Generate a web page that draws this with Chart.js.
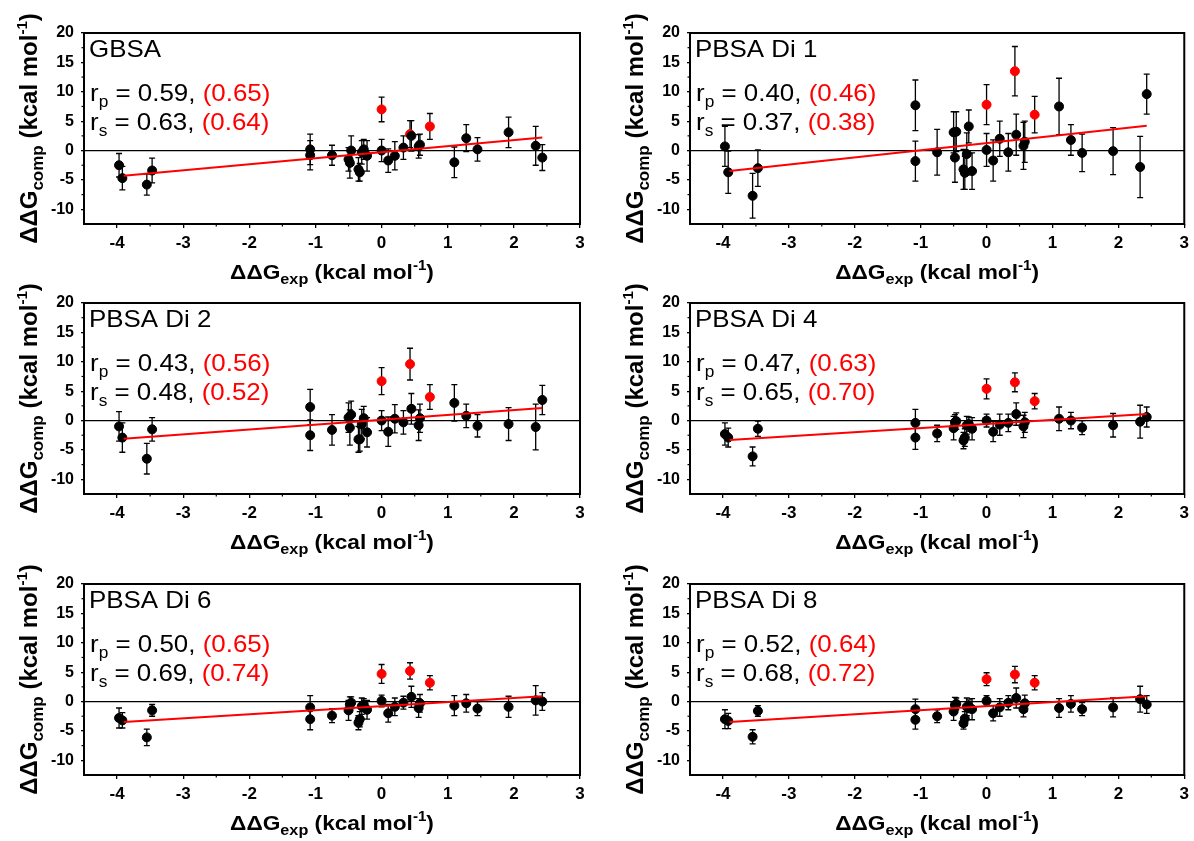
<!DOCTYPE html>
<html>
<head>
<meta charset="utf-8">
<script src="https://cdn.jsdelivr.net/npm/chart.js@4.4.0/dist/chart.umd.min.js"></script>
<style>
  body { margin: 0; background: #fff; }
  #wrap { position: relative; width: 1194px; height: 841px; overflow: hidden; }
  canvas { position: absolute; }
</style>
</head>
<body>
<div id="wrap"></div>
<script>
// experimental ddG (shared by all panels)
const xBlack = [-3.97, -3.92, -3.55, -3.47, -1.08, -1.08, -0.75, -0.50, -0.48, -0.46, -0.35, -0.33, -0.30, -0.27,
                -0.22, 0.00, 0.10, 0.20, 0.33, 0.45, 0.56, 0.58, 1.10, 1.28, 1.45, 1.92, 2.33, 2.43];
const xRed = [0.00, 0.43, 0.73];
const fitX = [-3.9, 2.43];
const xTicks = [-4, -3, -2, -1, 0, 1, 2, 3];
const yTicks = [-10, -5, 0, 5, 10, 15, 20];

// GBSA
const gbsaY   = [-2.5, -4.7, -5.8, -3.4, 0.2, -0.8, -0.8, -1.5, -2.1, 0.0, -3.2, -3.7, -0.3, 0.2, -0.9, 0.0, -1.7, -0.9, 0.5, 2.5, 0.7, 1.0, -2.0, 2.1, 0.2, 3.1, 0.8, -1.2];
const gbsaErr = [2.0, 2.0, 1.8, 2.1, 2.6, 2.5, 1.7, 2.0, 2.6, 2.5, 2.0, 1.5, 2.0, 1.7, 2.6, 1.9, 2.0, 2.4, 2.0, 2.6, 2.0, 1.8, 2.6, 2.3, 2.0, 2.6, 3.3, 2.2];
const gbsaRedY = [7.0, 2.8, 4.1];
const gbsaRedErr = [2.1, 2.3, 2.2];
const gbsaFitY = [-4.3, 2.2];

// PBSA Di 1
const di1Y   = [0.7, -3.7, -7.7, -3.0, 7.7, -1.8, -0.3, 3.1, -1.2, 3.2, -3.2, -3.8, -0.6, 4.1, -3.5, 0.1, -1.7, 2.0, -0.3, 2.7, 0.8, 1.5, 7.5, 1.8, -0.4, -0.1, -2.8, 9.6];
const di1Err = [3.4, 3.6, 3.8, 3.1, 4.3, 3.4, 3.9, 3.5, 4.2, 3.4, 3.4, 2.8, 3.6, 2.8, 3.1, 2.8, 3.5, 3.0, 3.2, 3.5, 4.0, 3.5, 4.8, 2.6, 3.2, 4.0, 5.2, 3.4];
const di1RedY = [7.8, 13.5, 6.1];
const di1RedErr = [3.4, 4.2, 3.1];
const di1FitY = [-3.5, 4.2];

// PBSA Di 2
const di2Y   = [-1.0, -2.9, -6.5, -1.5, 2.3, -2.5, -1.6, 0.5, -1.2, 1.0, -3.2, -3.2, -0.6, 0.4, -2.0, 0.0, -1.9, 0.3, -0.3, 2.0, -0.8, 0.4, 3.0, 0.8, -0.9, -0.6, -1.1, 3.5];
const di2Err = [2.5, 2.5, 2.6, 2.0, 3.0, 2.6, 2.6, 2.5, 3.0, 2.3, 2.2, 2.0, 2.5, 2.0, 2.5, 1.7, 2.5, 2.4, 2.0, 2.6, 2.6, 2.4, 3.1, 2.0, 1.9, 2.8, 3.9, 2.5];
const di2RedY = [6.7, 9.6, 4.0];
const di2RedErr = [2.3, 2.7, 2.1];
const di2FitY = [-3.1, 2.15];

// PBSA Di 4
const di4Y   = [-2.3, -2.9, -6.1, -1.4, -0.4, -2.9, -2.2, -1.3, -0.3, -0.1, -3.4, -2.9, -0.8, -0.6, -1.4, 0.0, -1.9, -0.7, -0.4, 1.1, -1.0, -0.3, 0.3, 0.0, -1.2, -0.8, -0.2, 0.6];
const di4Err = [1.9, 1.6, 1.6, 1.3, 2.3, 2.0, 1.4, 2.0, 1.3, 1.4, 1.4, 1.5, 1.5, 1.2, 1.9, 1.1, 1.7, 1.8, 1.5, 1.9, 1.9, 1.7, 2.0, 1.4, 1.2, 2.0, 2.8, 1.7];
const di4RedY = [5.4, 6.5, 3.3];
const di4RedErr = [1.7, 1.6, 1.3];
const di4FitY = [-3.3, 1.1];

// PBSA Di 6
const di6Y   = [-2.8, -3.2, -6.1, -1.5, -1.0, -3.0, -2.4, -1.5, -0.5, -0.2, -3.6, -3.0, -0.8, -0.5, -1.4, 0.1, -2.0, -0.9, -0.2, 0.8, -1.1, -0.3, -0.7, -0.3, -1.2, -0.9, 0.2, 0.0];
const di6Err = [1.7, 1.3, 1.4, 1.0, 2.0, 1.8, 1.2, 1.7, 1.3, 1.0, 1.2, 1.3, 1.4, 1.0, 1.6, 1.0, 1.5, 1.5, 1.1, 1.8, 1.6, 1.5, 1.7, 1.5, 1.2, 1.8, 2.5, 1.5];
const di6RedY = [4.7, 5.2, 3.2];
const di6RedErr = [1.6, 1.4, 1.2];
const di6FitY = [-3.5, 0.9];

// PBSA Di 8
const di8Y   = [-3.0, -3.3, -6.0, -1.6, -1.3, -3.1, -2.5, -1.7, -0.6, -0.4, -3.7, -2.9, -0.9, -0.8, -1.3, 0.1, -2.0, -1.0, -0.2, 0.6, -1.3, -0.3, -1.1, -0.4, -1.3, -1.0, 0.4, -0.5];
const di8Err = [1.6, 1.3, 1.2, 0.9, 1.7, 1.6, 1.1, 1.5, 1.3, 1.0, 1.0, 1.2, 1.5, 1.1, 1.8, 0.9, 1.3, 1.5, 1.2, 1.7, 1.3, 1.4, 1.6, 1.4, 1.1, 1.6, 2.2, 1.5];
const di8RedY = [3.8, 4.6, 3.2];
const di8RedErr = [1.1, 1.4, 1.2];
const di8FitY = [-3.5, 0.9];

const panelNames = ['GBSA', 'PBSA Di 1', 'PBSA Di 2', 'PBSA Di 4', 'PBSA Di 6', 'PBSA Di 8'];
const rpVals = ['0.59', '0.40', '0.43', '0.47', '0.50', '0.52'];
const rpRed  = ['0.65', '0.46', '0.56', '0.63', '0.65', '0.64'];
const rsVals = ['0.63', '0.37', '0.48', '0.65', '0.69', '0.68'];
const rsRed  = ['0.64', '0.38', '0.52', '0.70', '0.74', '0.72'];

const FONT = '"Liberation Sans", Arial, sans-serif';
const STRETCH = 1.08; // reference text is a little wide

const panels = [
    { y: gbsaY, err: gbsaErr, ry: gbsaRedY, rerr: gbsaRedErr, fit: gbsaFitY },
    { y: di1Y, err: di1Err, ry: di1RedY, rerr: di1RedErr, fit: di1FitY },
    { y: di2Y, err: di2Err, ry: di2RedY, rerr: di2RedErr, fit: di2FitY },
    { y: di4Y, err: di4Err, ry: di4RedY, rerr: di4RedErr, fit: di4FitY },
    { y: di6Y, err: di6Err, ry: di6RedY, rerr: di6RedErr, fit: di6FitY },
    { y: di8Y, err: di8Err, ry: di8RedY, rerr: di8RedErr, fit: di8FitY }
];

const rowTops = [33, 303, 584];
const colBoxes = [
    { left: 0, width: 597, plotLeft: 84, padRight: 17 },
    { left: 600, width: 594, plotLeft: 90, padRight: 6 }
];

function drawRich(ctx, parts, x, y, sx) {
    ctx.save();
    ctx.translate(x, y);
    ctx.scale(sx || 1, 1);
    let cx = 0;
    parts.forEach(p => {
        ctx.font = p.font;
        ctx.fillStyle = p.color || '#000';
        ctx.fillText(p.t, cx, p.dy || 0);
        cx += ctx.measureText(p.t).width;
    });
    ctx.restore();
}
function richWidth(ctx, parts) {
    let w = 0;
    parts.forEach(p => { ctx.font = p.font; w += ctx.measureText(p.t).width; });
    return w;
}

const decor = {
    id: 'decor',
    beforeDatasetsDraw(chart, args, opts) {
        const { ctx, chartArea: a, scales: { x, y } } = chart;
        ctx.save();
        // zero line
        ctx.strokeStyle = '#000';
        ctx.lineWidth = 1.2;
        const y0 = y.getPixelForValue(0);
        ctx.beginPath(); ctx.moveTo(a.left, y0); ctx.lineTo(a.right, y0); ctx.stroke();
        // error bars
        ctx.lineWidth = 1.3;
        chart.data.datasets.forEach(ds => {
            if (!ds.errs) return;
            ds.data.forEach((p, i) => {
                const px = x.getPixelForValue(p.x);
                const t = y.getPixelForValue(p.y + ds.errs[i]);
                const b = y.getPixelForValue(p.y - ds.errs[i]);
                ctx.beginPath();
                ctx.moveTo(px, t); ctx.lineTo(px, b);
                ctx.moveTo(px - 3, t); ctx.lineTo(px + 3, t);
                ctx.moveTo(px - 3, b); ctx.lineTo(px + 3, b);
                ctx.stroke();
            });
        });
        ctx.restore();
    },
    afterDraw(chart, args, opts) {
        const { ctx, chartArea: a, scales: { x, y } } = chart;
        ctx.save();
        // frame
        ctx.strokeStyle = '#000';
        ctx.lineWidth = 2;
        ctx.strokeRect(a.left, a.top, a.right - a.left, a.bottom - a.top);
        // minor ticks
        ctx.lineWidth = 1.2;
        for (let v = -3.5; v < 3; v += 1) {
            const px = x.getPixelForValue(v);
            ctx.beginPath(); ctx.moveTo(px, a.bottom); ctx.lineTo(px, a.bottom + 2.5); ctx.stroke();
        }
        for (let v = -7.5; v < 20; v += 5) {
            const py = y.getPixelForValue(v);
            ctx.beginPath(); ctx.moveTo(a.left, py); ctx.lineTo(a.left - 2.5, py); ctx.stroke();
        }
        // panel labels
        ctx.textBaseline = 'alphabetic';
        ctx.textAlign = 'left';
        const big = '24px ' + FONT, small = '16px ' + FONT;
        drawRich(ctx, [{ t: opts.name, font: big }], a.left + 5, a.top + 24, STRETCH);
        drawRich(ctx, [
            { t: 'r', font: big }, { t: 'p', font: small, dy: 6 },
            { t: ' = ' + opts.rp + ', ', font: big },
            { t: '(' + opts.rpRed + ')', font: big, color: '#ff0000' }
        ], a.left + 6, a.top + 68, STRETCH);
        drawRich(ctx, [
            { t: 'r', font: big }, { t: 's', font: small, dy: 6 },
            { t: ' = ' + opts.rs + ', ', font: big },
            { t: '(' + opts.rsRed + ')', font: big, color: '#ff0000' }
        ], a.left + 6, a.top + 97, STRETCH);
        // x axis title
        const xb = 'bold 21px ' + FONT, xs = 'bold 15px ' + FONT, xu = 'bold 14px ' + FONT;
        const xt = [{ t: 'ΔΔG', font: xb }, { t: 'exp', font: xs, dy: 5 }, { t: ' (kcal mol', font: xb },
                    { t: '-1', font: xu, dy: -9 }, { t: ')', font: xb }];
        const wx = richWidth(ctx, xt) * STRETCH;
        drawRich(ctx, xt, (a.left + a.right) / 2 - wx / 2, a.bottom + 55, STRETCH);
        // y axis title (rotated)
        const yb = 'bold 24px ' + FONT, ys = 'bold 17px ' + FONT, yu = 'bold 15px ' + FONT;
        const yt = [{ t: 'ΔΔG', font: yb }, { t: 'comp', font: ys, dy: 6 }, { t: ' (kcal mol', font: yb },
                    { t: '-1', font: yu, dy: -10 }, { t: ')', font: yb }];
        const wy = richWidth(ctx, yt);
        ctx.translate(a.left - 47, (a.top + a.bottom) / 2);
        ctx.rotate(-Math.PI / 2);
        drawRich(ctx, yt, -wy / 2, 0, 1);
        ctx.restore();
    }
};

const wrap = document.getElementById('wrap');

panels.forEach((p, i) => {
    const col = colBoxes[i % 2];
    const top = rowTops[Math.floor(i / 2)];
    const cv = document.createElement('canvas');
    cv.width = col.width;
    cv.height = 290;
    cv.style.left = col.left + 'px';
    cv.style.top = (top - 33) + 'px';
    wrap.appendChild(cv);

    new Chart(cv, {
        type: 'scatter',
        data: {
            datasets: [
                {
                    type: 'line',
                    data: fitX.map((v, k) => ({ x: v, y: p.fit[k] })),
                    borderColor: '#ff0000',
                    borderWidth: 2,
                    pointRadius: 0,
                    order: 0
                },
                {
                    data: xBlack.map((v, k) => ({ x: v, y: p.y[k] })),
                    errs: p.err,
                    backgroundColor: '#000',
                    borderColor: '#000',
                    pointRadius: 4.5,
                    order: 1
                },
                {
                    data: xRed.map((v, k) => ({ x: v, y: p.ry[k] })),
                    errs: p.rerr,
                    backgroundColor: '#ff0000',
                    borderColor: '#ff0000',
                    pointRadius: 4.5,
                    order: 2
                }
            ]
        },
        options: {
            responsive: false,
            animation: false,
            devicePixelRatio: 1,
            layout: { padding: { top: 33, right: col.padRight, left: 0, bottom: 0 } },
            scales: {
                x: {
                    type: 'linear',
                    min: -4.5,
                    max: 3,
                    afterBuildTicks: s => { s.ticks = xTicks.map(v => ({ value: v })); },
                    afterFit: s => { s.height = 66; },
                    grid: { drawOnChartArea: false, tickLength: 4, color: '#000', lineWidth: 1.3 },
                    border: { display: false },
                    ticks: { color: '#000', font: { family: FONT, size: 17, weight: 'bold' }, padding: 5, maxRotation: 0 }
                },
                y: {
                    type: 'linear',
                    min: -12.5,
                    max: 20,
                    afterBuildTicks: s => { s.ticks = yTicks.map(v => ({ value: v })); },
                    afterFit: s => { s.width = col.plotLeft; },
                    grid: { drawOnChartArea: false, tickLength: 3, color: '#000', lineWidth: 1.3 },
                    border: { display: false },
                    ticks: { color: '#000', font: { family: FONT, size: 16, weight: 'bold' }, padding: 7 }
                }
            },
            plugins: {
                legend: { display: false },
                tooltip: { enabled: false },
                decor: {
                    name: panelNames[i],
                    rp: rpVals[i], rpRed: rpRed[i],
                    rs: rsVals[i], rsRed: rsRed[i]
                }
            }
        },
        plugins: [decor]
    });
});
</script>
</body>
</html>
